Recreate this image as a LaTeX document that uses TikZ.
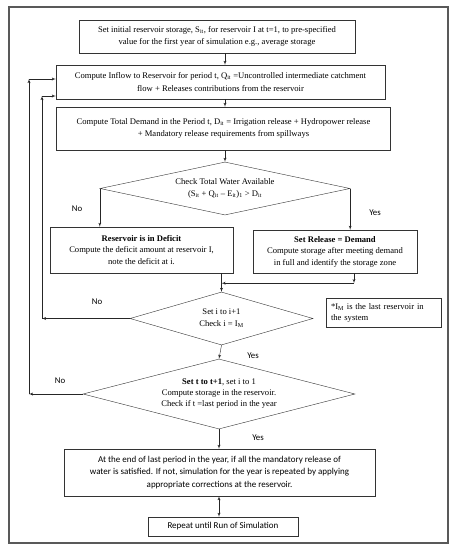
\documentclass[tikz,border=0pt]{standalone}
\usepackage{fontspec}
\setmainfont{Liberation Serif}
\setsansfont{Carlito}
\usetikzlibrary{shapes.geometric,arrows,positioning,calc}
\tikzstyle{process} = [draw=black!80, shape=rectangle, align=center, inner sep=1pt, font=\fontsize{8.6}{12.5}\selectfont]
\tikzstyle{decision} = [draw=black!80, shape=diamond, align=center, inner sep=0pt, font=\fontsize{8.6}{12}\selectfont]
\tikzstyle{answer} = [font=\sffamily\fontsize{8.8}{10}\selectfont, inner sep=0pt]
\tikzstyle{Arrow} = [->, >=latex', thin, draw=black!85]

\begin{document}
\begin{tikzpicture}[x=1pt, y=-1pt]
            \useasboundingbox (0,0) rectangle (455,550);
            \draw [line width=1.2pt, black!65] (9,7) rectangle (448,543);
            %%%%% Initialisation %%%%%
            \node (B1) [process, minimum width=276pt, minimum height=33pt] at (217,36.5) {Set initial reservoir storage, S\textsubscript{it}, for reservoir I at t=1, to pre-specified\\ value for the first year of simulation e.g., average storage};
            \node (B2) [process, minimum width=329pt, minimum height=34pt] at (220.5,82) {Compute Inflow to Reservoir for period t, Q\textsubscript{it} =Uncontrolled intermediate catchment\\ flow + Releases contributions from the reservoir};
            \node (B3) [process, minimum width=334pt, minimum height=43pt] at (223.5,128.5) {Compute Total Demand in the Period t, D\textsubscript{it} = Irrigation release + Hydropower release\\ + Mandatory release requirements from spillways};
            %%%%% First check %%%%%
            \node (D1) [decision, minimum width=250pt, minimum height=53pt, aspect=4.7] at (225,188.5) {Check Total Water Available\\ (S\textsubscript{it} + Q\textsubscript{it} -- E\textsubscript{it})\textsubscript{1} > D\textsubscript{it}};
            \node (B4) [process, minimum width=183pt, minimum height=46pt, font=\fontsize{8.6}{11.5}\selectfont] at (141.5,250) {\textbf{Reservoir is in Deficit}\\ Compute the deficit amount at reservoir I,\\ note the deficit at i.};
            \node (B5) [process, minimum width=164pt, minimum height=43pt, font=\fontsize{8.6}{11.5}\selectfont] at (335,251.5) {\textbf{Set Release = Demand}\\ Compute storage after meeting demand\\ in full and identify the storage zone};
            \draw [Arrow] (B1.south -| D1.north) -- (B2.north -| D1.north);
            \draw [Arrow] (B2.south -| D1.north) -- (B3.north -| D1.north);
            \draw [Arrow] (B3.south -| D1.north) -- (D1.north);
            \draw [Arrow] (D1.west) -- (D1.west |- B4.north);
            \draw [Arrow] (D1.east) -- (D1.east |- B5.north);
            \node (N1) [answer] at (77,209) {No};
            \node (Y1) [answer] at (375,213) {Yes};
            %%%%% Next reservoir %%%%%
            \node (D2) [decision, minimum width=183pt, minimum height=53pt, aspect=3.45] at (221.5,318.5) {Set i to i+1\\ Check i = I\textsubscript{M}};
            \node (NB) [draw=black!80, align=left, text width=105pt, inner sep=5pt, minimum height=29pt, font=\fontsize{8.6}{11}\selectfont] at (383.5,312.5) {*I\textsubscript{M} is the last reservoir in\\ the system};
            \coordinate (M5) at ($(B5.south)+(19,10)$);
            \draw [Arrow] (B4.south -| D2.north) -- (D2.north);
            \draw [Arrow] (B5.south -| M5) -- (M5);
            \draw [Arrow] (M5) -- (M5 -| D2.north);
            \node (N2) [answer] at (97,302) {No};
            %%%%% Next period %%%%%
            \node (D3) [decision, minimum width=272pt, minimum height=70pt, aspect=3.89, font=\fontsize{8.6}{11}\selectfont] at (219,394) {\textbf{Set t to t+1}, set i to 1\\ Compute storage in the reservoir.\\ Check if t =last period in the year};
            \draw [Arrow] (D2.south) -- (D3.north);
            \node (Y2) [answer] at (253,356) {Yes};
            \node (N3) [answer] at (60,381) {No};
            %%%%% Loops back %%%%%
            \coordinate (L2) at (42,96);
            \coordinate (L3) at (29,79);
            \draw [Arrow] (D2.west) -- (D2.west -| L2);
            \draw [Arrow] (D2.west -| L2) -- (L2);
            \draw [Arrow] (L2) -- (L2 -| B2.west);
            \draw [Arrow] (D3.west) -- (D3.west -| L3);
            \draw [Arrow] (D3.west -| L3) -- (L3);
            \draw [Arrow] (L3) -- (L3 -| B2.west);
            %%%%% End of year %%%%%
            \node (B6) [process, minimum width=311pt, minimum height=47pt, font=\sffamily\fontsize{9}{12.5}\selectfont] at (219.5,472.5) {At the end of last period in the year, if all the mandatory release of\\ water is satisfied. If not, simulation for the year is repeated by applying\\ appropriate corrections at the reservoir.};
            \node (B7) [process, minimum width=150pt, minimum height=19pt, font=\sffamily\fontsize{9}{10}\selectfont] at (223,526.5) {Repeat until Run of Simulation};
            \draw [Arrow] (D3.south) -- (D3.south |- B6.north);
            \node (Y3) [answer] at (258,438) {Yes};
            \draw [Arrow, <->] (B6.south -| D3.south) -- (B7.north -| D3.south);

        \end{tikzpicture}
\end{document}
